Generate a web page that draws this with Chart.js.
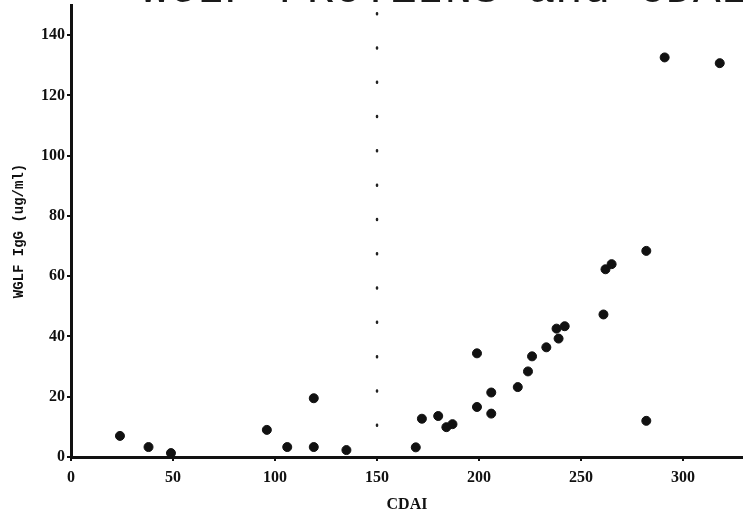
<!DOCTYPE html>
<html>
<head>
<meta charset="utf-8">
<script src="https://cdn.jsdelivr.net/npm/chart.js@4"></script>
<style>
  html, body { margin: 0; padding: 0; background: #fff; overflow: hidden; }
  #wrap { position: relative; width: 743px; height: 519px; }
  #title {
    position: absolute; left: 141px; top: -33px; white-space: pre;
    font-family: "Liberation Mono", monospace; font-size: 46px; line-height: 46px;
    color: #1a1a1a;
  }
</style>
</head>
<body>
<div id="wrap">
  <canvas id="myChart"></canvas>
  <div id="title">WGLF PROTEINS and CDAI</div>
</div>
<script>
// values
const cdai = [24, 38, 49, 96, 106, 119, 119, 135, 169, 172, 180, 184, 187, 199, 199, 206, 206,
              219, 224, 226, 233, 239, 238, 242, 261, 262, 265, 282, 282, 291, 318];
const igg = [7, 3.3, 1.3, 9, 3.3, 3.3, 19.5, 2.3, 3.2, 12.7, 13.6, 9.9, 10.9, 34.4, 16.6, 21.4, 14.4,
             23.2, 28.4, 33.4, 36.4, 39.3, 42.6, 43.4, 47.3, 62.3, 64, 68.4, 12, 132.6, 130.7];
const xTicks = [0, 50, 100, 150, 200, 250, 300];
const yTicks = [0, 20, 40, 60, 80, 100, 120, 140];
// dotted cut-off line at CDAI 150
const cutoffX = 150;
const cutoffY = [147.3, 9];

const ctx = document.getElementById('myChart');

let points = [];
for (let i = 0; i < cdai.length; i++) {
    points.push({x: cdai[i], y: igg[i]})
}

const tickFont = {family: 'Liberation Serif', size: 16, weight: 'bold'};

const chart = new Chart(ctx, {
    type: 'scatter',
    data: {
        datasets: [{
            data: points,
            backgroundColor: '#111',
            borderColor: '#111',
            pointRadius: 4.5,
            pointHoverRadius: 4.5
        }, {
            type: 'line',
            data: cutoffY.map(y => ({x: cutoffX, y: y})),
            borderColor: '#222',
            borderWidth: 2.5,
            borderDash: [1, 33.3],
            borderCapStyle: 'round',
            pointRadius: 0
        }]
    },
    options: {
        responsive: true,
        maintainAspectRatio: false,
        animation: false,
        layout: {autoPadding: false, padding: {top: 5, left: 0, right: 0, bottom: 0}},
        plugins: {
            legend: {display: false},
            tooltip: {enabled: false}
        },
        scales: {
            x: {
                type: 'linear',
                min: 0,
                max: 329.4,
                afterFit: (s) => {
                    s.height = 62;
                    s.paddingLeft = 0;
                    s.paddingRight = 0;
                },
                afterBuildTicks: (s) => { s.ticks = xTicks.map(v => ({value: v})) },
                ticks: {color: '#111', font: tickFont, padding: 7, maxRotation: 0},
                grid: {drawOnChartArea: false, drawTicks: true, tickLength: 4, color: '#111', lineWidth: 2},
                border: {color: '#111', width: 3},
                title: {
                    display: true, text: 'CDAI', color: '#111',
                    font: {family: 'Liberation Serif', size: 16, weight: 'bold'},
                    padding: {top: 0, bottom: 5}
                }
            },
            y: {
                min: 0,
                max: 150,
                afterFit: (s) => {
                    s.width = 71;
                    s.paddingTop = 0;
                    s.paddingBottom = 0;
                },
                afterBuildTicks: (s) => { s.ticks = yTicks.map(v => ({value: v})) },
                ticks: {color: '#111', font: tickFont, padding: 2},
                grid: {drawOnChartArea: false, drawTicks: true, tickLength: 4, color: '#111', lineWidth: 2},
                border: {color: '#111', width: 3},
                title: {
                    display: true, text: 'WGLF IgG (ug/ml)', color: '#111',
                    font: {family: 'Liberation Mono', size: 14, weight: 'bold'},
                    padding: {top: 11, bottom: 0}
                }
            }
        }
    }
});
</script>
</body>
</html>
